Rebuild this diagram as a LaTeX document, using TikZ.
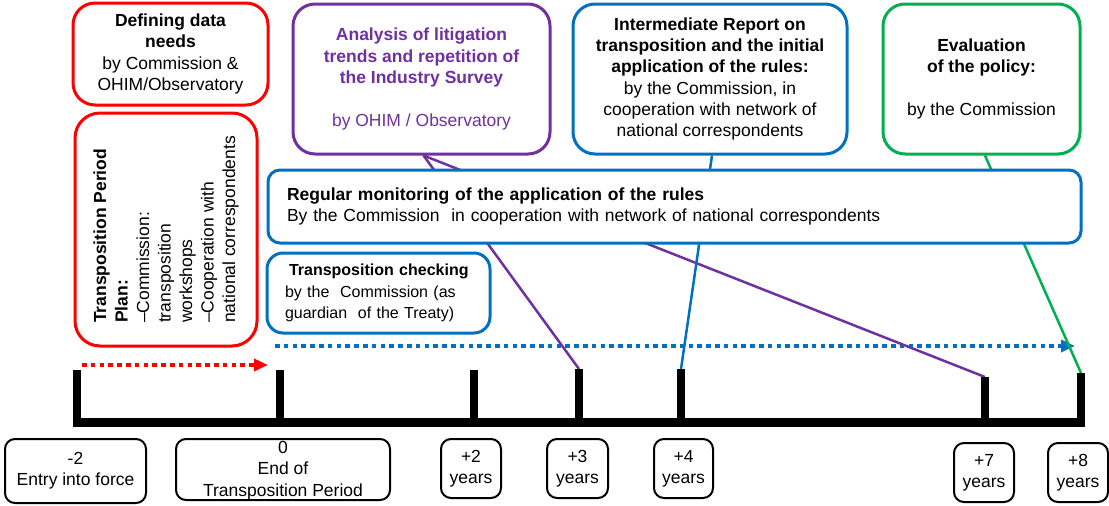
\documentclass[tikz,border=0pt]{standalone}
\usepackage{fontspec}
\setmainfont{Liberation Sans}
\usetikzlibrary{arrows.meta}
\definecolor{cred}{HTML}{FF0000}
\definecolor{cblue}{HTML}{0070C0}
\definecolor{cpurple}{HTML}{7030A0}
\definecolor{cgreen}{HTML}{00B050}
\begin{document}
\begin{tikzpicture}[x=1pt,y=-1pt,
  box/.style={draw, line width=3pt, rounded corners=22pt, fill=white, align=center, inner sep=0pt, font=\fontsize{17.5}{21.3}\selectfont},
  lbl/.style={draw=black, line width=2pt, rounded corners=10pt, fill=white, align=center, inner sep=0pt, font=\fontsize{17.5}{21.3}\selectfont},
  lbltext/.style={align=center, inner sep=0pt, font=\fontsize{17.5}{21.3}\selectfont},
  tickline/.style={line width=8pt},
  conn/.style={line width=2.5pt},
  dotarrow/.style={line width=4.5pt, dash pattern=on 4.5pt off 4.3pt, -{Triangle[length=14pt,width=12pt]}},
]
\useasboundingbox (0,0) rectangle (1109,506);

% top boxes
\node[box, draw=cred, minimum width=195pt, minimum height=102pt] (def) at (170.5,54)
  {\textbf{Defining data}\\\textbf{needs}\\by Commission \&\\OHIM/Observatory};
\node[box, draw=cpurple, text=cpurple, minimum width=257pt, minimum height=150pt] (pur) at (421.5,79)
  {\textbf{Analysis of litigation}\\\textbf{trends and repetition of}\\\textbf{the Industry Survey}\\[21.3pt]by OHIM / Observatory};
\node[box, draw=cblue, minimum width=274pt, minimum height=150pt] (int) at (710,79)
  {\textbf{Intermediate Report on}\\\textbf{transposition and the initial}\\\textbf{application of the rules:}\\by the Commission, in\\cooperation with network of\\national correspondents};
\node[box, draw=cgreen, minimum width=197pt, minimum height=150pt] (eva) at (981.5,79)
  {\textbf{Evaluation}\\\textbf{of the policy:}\\[21.3pt]by the Commission};

% rotated box
\node[box, draw=cred, rotate=90, align=left, rounded corners=25pt, minimum width=233pt, minimum height=182pt,
  font=\fontsize{17.5}{21.5}\selectfont] (plan) at (166,229.5)
  {\textbf{Transposition Period}\\\textbf{Plan:}\\–Commission:\\transposition\\workshops\\–Cooperation with\\national correspondents};

% timeline coordinates
\coordinate (tm2) at (77,370);
\coordinate (t0) at (280,370);
\coordinate (t2) at (474,370);
\coordinate (t3) at (579,369);
\coordinate (t4) at (681,369);
\coordinate (t7) at (985,377);
\coordinate (t8) at (1081,373);
\coordinate (axL) at (73,422.5);
\coordinate (axR) at (1085,422.5);

% dotted arrows
\coordinate (ra) at (82,365);
\coordinate (rb) at (268,365);
\coordinate (ba) at (275,346);
\coordinate (bb) at (1075,346);
\draw[dotarrow, cred] (ra) -- (rb);
\draw[dotarrow, cblue, line width=4pt] (ba) -- (bb);

% connectors
\draw[conn, cpurple] ([xshift=2pt]pur.south) -- (t3);
\draw[conn, cpurple] ([xshift=2pt]pur.south) -- (t7);
\draw[conn, cblue] ([xshift=2pt]int.south) -- (t4);
\draw[conn, cgreen] ([xshift=3.5pt]eva.south) -- (t8);

% monitoring box
\node[box, draw=cblue, rounded corners=12pt, align=left, inner xsep=19pt, text width=775pt, minimum height=73pt] (mon) at (674.5,206.5)
  {\textbf{Regular monitoring of the application of the rules}\\By the Commission\ \ in cooperation with network of national correspondents};

% transposition checking
\node[box, draw=cblue, rounded corners=16pt, align=left, inner xsep=18pt, text width=187pt, minimum height=80pt,
  font=\fontsize{16}{21.5}\selectfont] (chk) at (378.5,293)
  {\hspace{4pt}\textbf{Transposition checking}\\by the\ \ Commission (as\\guardian\ \ of the Treaty)};

% ticks and axis
\draw[tickline] (tm2) -- (tm2 |- axL);
\draw[tickline] (t0) -- (t0 |- axL);
\draw[tickline] (t2) -- (t2 |- axL);
\draw[tickline] (t3) -- (t3 |- axL);
\draw[tickline] (t4) -- (t4 |- axL);
\draw[tickline] (t7) -- (t7 |- axL);
\draw[tickline] (t8) -- (t8 |- axL);
\draw[line width=9pt] (axL) -- (axR);

% labels
\node[lbl, minimum width=141pt, minimum height=64pt] (lm2) at (75.5,471) {-2\\Entry into force};
\node[lbl, minimum width=214pt, minimum height=61pt] (l0) at (283,469.5) {};
\node[lbltext] (l0t) at (283,470.5) {0\\End of\\Transposition Period};
\node[lbl, minimum width=60pt, minimum height=59pt] (l2) at (471,468.5) {+2\\years};
\node[lbl, minimum width=61pt, minimum height=59pt] (l3) at (577.5,468.5) {+3\\years};
\node[lbl, minimum width=59pt, minimum height=59pt] (l4) at (683.5,468.5) {+4\\years};
\node[lbl, minimum width=60pt, minimum height=59pt] (l7) at (984,472.5) {+7\\years};
\node[lbl, minimum width=60pt, minimum height=59pt] (l8) at (1078,472.5) {+8\\years};
\end{tikzpicture}
\end{document}
